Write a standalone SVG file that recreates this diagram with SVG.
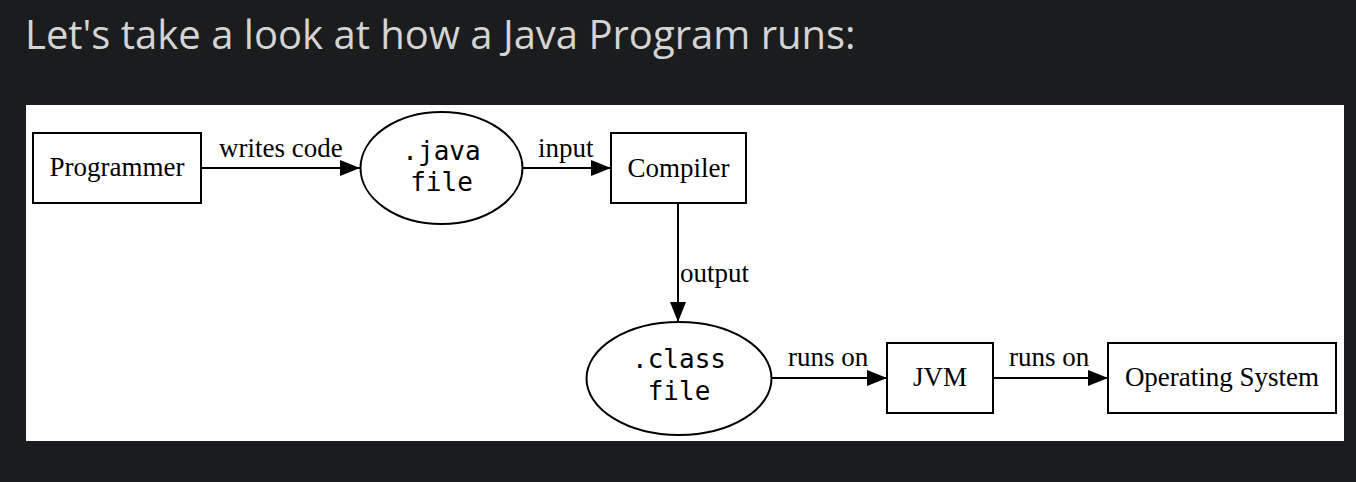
<svg xmlns="http://www.w3.org/2000/svg" width="1356" height="482" viewBox="0 0 1356 482">
<style>
.title{font-family:"Open Sans",sans-serif;font-weight:400;font-size:40px;fill:#d4d4d4}
.node rect,.node ellipse{fill:#fff;stroke:#000;stroke-width:2}
.lbl{font-family:"Liberation Serif","Times New Roman",serif;font-size:27px;fill:#000}
.mono{font-family:"DejaVu Sans Mono",monospace;font-size:26px;fill:#000;text-anchor:middle}
.c{text-anchor:middle}
.edge{stroke:#000;stroke-width:2;fill:none;marker-end:url(#arr)}
</style>
<defs>
<marker id="arr" viewBox="0 0 20 16" refX="20" refY="8" markerWidth="20" markerHeight="16" markerUnits="userSpaceOnUse" orient="auto">
<path d="M0,0 L20,8 L0,16 Z" fill="#000"/>
</marker>
</defs>
<rect width="1356" height="482" fill="#1b1c1e"/>
<text class="title" x="25" y="49">Let's take a look at how a Java Program runs:</text>
<rect x="26" y="105" width="1318" height="336" fill="#fff"/>
<g id="connectors">
<path class="edge" d="M201,168 L360,168"/>
<path class="edge" d="M522,168 L611,168"/>
<path class="edge" d="M678,203 L678,322"/>
<path class="edge" d="M771,378 L887,378"/>
<path class="edge" d="M993,378 L1108,378"/>
<text class="lbl" x="219" y="157">writes code</text>
<text class="lbl" x="538" y="157">input</text>
<text class="lbl" x="680" y="282">output</text>
<text class="lbl" x="788" y="366">runs on</text>
<text class="lbl" x="1009" y="366">runs on</text>
</g>
<g id="programmer" class="node">
<rect x="33" y="133" width="168" height="70"/>
<text class="lbl c" x="117" y="176">Programmer</text>
</g>
<g id="java" class="node">
<ellipse cx="441.5" cy="168" rx="81" ry="56"/>
<text class="mono" x="441.5" y="160">.java</text>
<text class="mono" x="441.5" y="191">file</text>
</g>
<g id="compiler" class="node">
<rect x="611" y="133" width="135" height="70"/>
<text class="lbl c" x="678.5" y="177">Compiler</text>
</g>
<g id="class" class="node">
<ellipse cx="679" cy="378.5" rx="92.5" ry="56.5"/>
<text class="mono" x="679" y="368">.class</text>
<text class="mono" x="679" y="400">file</text>
</g>
<g id="jvm" class="node">
<rect x="887" y="343" width="106" height="70"/>
<text class="lbl c" x="940" y="386">JVM</text>
</g>
<g id="os" class="node">
<rect x="1108" y="343" width="228" height="70"/>
<text class="lbl c" x="1222" y="386">Operating System</text>
</g>
</svg>
